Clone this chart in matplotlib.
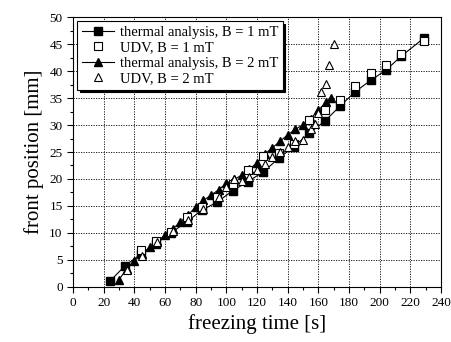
import matplotlib
matplotlib.use("Agg")
import matplotlib.pyplot as plt
from matplotlib.ticker import MultipleLocator

plt.rcParams['font.family'] = ['Liberation Serif', 'DejaVu Serif']

# thermal analysis, B = 1 mT
t_th1 = [24, 34, 44, 54, 64, 74, 84, 94, 104, 114, 124, 134, 144, 154, 164, 174, 184, 194, 204, 214, 229]
z_th1 = [1.0, 3.9, 6.0, 8.0, 10.0, 12.0, 14.2, 15.7, 17.8, 19.5, 21.3, 23.8, 26.0, 28.5, 30.7, 33.5, 36.2, 38.3, 40.2, 42.8, 46.2]

# UDV, B = 1 mT
t_udv1 = [44, 54, 64, 74, 84, 94, 104, 114, 124, 134, 144, 154, 164, 174, 184, 194, 204, 214, 229]
z_udv1 = [6.8, 8.5, 10.1, 12.9, 14.7, 16.7, 19.0, 21.6, 24.2, 24.8, 26.5, 31.0, 32.8, 34.7, 37.3, 39.7, 41.1, 43.2, 45.7]

# thermal analysis, B = 2 mT
t_th2 = [30, 35, 40, 45, 50, 55, 60, 65, 70, 75, 80, 85, 90, 95, 100, 105, 110, 115, 120, 125,
         130, 135, 140, 145, 150, 155, 160, 165, 168]
z_th2 = [1.3, 3.3, 4.8, 6.0, 7.3, 8.5, 9.5, 10.7, 12.0, 13.3, 14.8, 16.0, 17.0, 18.0, 19.2, 19.9,
         20.7, 21.8, 23.0, 24.6, 25.8, 27.0, 28.2, 29.2, 30.1, 31.2, 32.8, 34.2, 35.0]

# UDV, B = 2 mT
t_udv2 = [35, 45, 55, 65, 75, 85, 95, 100, 105, 110, 115, 120, 125, 130, 135, 140, 145, 150, 155,
          158, 160, 162, 165, 167, 170]
z_udv2 = [3.0, 5.6, 8.2, 10.4, 12.4, 14.5, 16.6, 18.5, 20.0, 19.6, 20.4, 21.6, 22.8, 24.0, 25.0,
          26.0, 27.0, 27.2, 29.3, 30.2, 32.2, 36.1, 37.7, 41.1, 45.1]

fig = plt.figure(figsize=(4.51, 3.42), dpi=100)
ax = fig.add_axes([0.162, 0.162, 0.816, 0.787])

ms = 5.5
ax.plot(t_th1, z_th1, '-', color='black', lw=0.8, marker='s', ms=ms, mfc='black', mec='black',
        label='thermal analysis, B = 1 mT', zorder=3)
ax.plot(t_udv1, z_udv1, ls='none', marker='s', ms=ms, mfc='white', mec='black', mew=0.8,
        label='UDV, B = 1 mT', zorder=4)
ax.plot(t_th2, z_th2, '-', color='black', lw=0.8, marker='^', ms=ms + 0.5, mfc='black', mec='black',
        label='thermal analysis, B = 2 mT', zorder=3)
ax.plot(t_udv2, z_udv2, ls='none', marker='^', ms=ms + 0.5, mfc='white', mec='black', mew=0.8,
        label='UDV, B = 2 mT', zorder=4)

ax.set_xlim(0, 240)
ax.set_ylim(0, 50)
ax.xaxis.set_major_locator(MultipleLocator(20))
ax.xaxis.set_minor_locator(MultipleLocator(10))
ax.yaxis.set_major_locator(MultipleLocator(5))
ax.yaxis.set_minor_locator(MultipleLocator(2.5))
ax.tick_params(which='both', direction='out', labelsize=9.5, width=0.8)
ax.tick_params(which='major', length=4)
ax.tick_params(which='minor', length=2.5)
ax.grid(True, which='major', ls=(0, (1.5, 1.5)), color='black', lw=0.6)
for s in ax.spines.values():
    s.set_linewidth(0.8)

ax.set_xlabel('freezing time [s]', fontsize=15)
ax.set_ylabel('front position [mm]', fontsize=15)

leg = ax.legend(loc='upper left', bbox_to_anchor=(0.012, 0.985), fontsize=10.5, frameon=True,
                fancybox=False, shadow={'color': 'black', 'alpha': 1}, edgecolor='black',
                framealpha=1, handlelength=2.2, handletextpad=0.4, borderpad=0.3,
                labelspacing=0.15, borderaxespad=0)
leg.get_frame().set_linewidth(0.8)

fig.savefig('out.png', dpi=100)
